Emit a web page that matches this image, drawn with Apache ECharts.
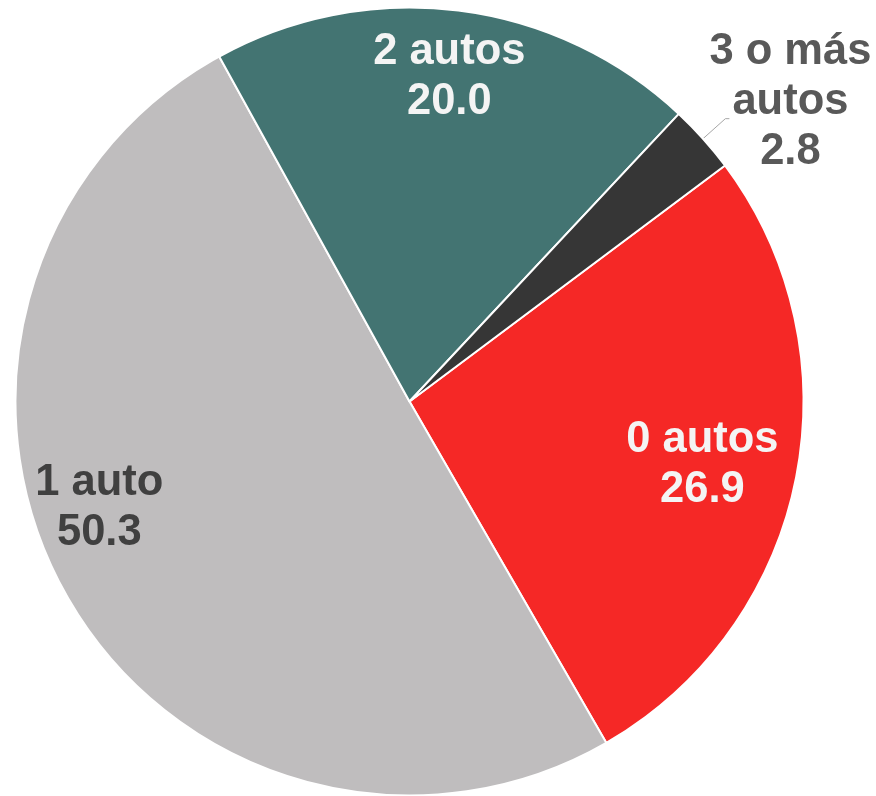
<!DOCTYPE html>
<html>
<head>
<meta charset="utf-8">
<script src="https://cdn.jsdelivr.net/npm/echarts@6/dist/echarts.min.js"></script>
<style>
  html, body { margin: 0; padding: 0; background: #ffffff; }
  #chart { width: 876px; height: 796px; }
</style>
</head>
<body>
<div id="chart"></div>
<script>
// Data
const categories = ['0 autos', '1 auto', '2 autos', '3 o más\nautos'];
const values = [26.9, 50.3, 20.0, 2.8];

// Styles
const sliceColors = ['#F52826', '#BFBDBE', '#437472', '#363636'];
const labelTokens = ['w', 'd1', 'w', 'd2'];
const labelOffsets = [[97, 23], [-136, 8], [15, -126], null];

const FONT = "'Liberation Sans', Arial, sans-serif";
function tok(color) {
  return { color: color, fontSize: 43.5, fontWeight: 'bold', fontFamily: FONT, lineHeight: 50, align: 'center' };
}

const chart = echarts.init(document.getElementById('chart'), null, { renderer: 'canvas' });

const data = categories.map(function (name, i) {
  const item = { name: name, value: values[i], itemStyle: { color: sliceColors[i] } };
  if (i === 3) {
    item.label = { position: 'outside', distanceToLabelLine: -20, padding: [0, 0, 33, 0] };
    item.labelLine = { show: true, length: 30, length2: 4, lineStyle: { color: '#A6A6A6', width: 1 } };
  }
  return item;
});

chart.setOption({
  animation: false,
  backgroundColor: '#ffffff',
  series: [{
    type: 'pie',
    center: [409.5, 401.5],
    radius: 394,
    startAngle: 36.8,
    clockwise: true,
    avoidLabelOverlap: false,
    itemStyle: { borderColor: '#ffffff', borderWidth: 2 },
    label: {
      show: true,
      position: 'inside',
      formatter: function (p) {
        const t = labelTokens[p.dataIndex];
        const lines = (p.name + '\n' + p.value.toFixed(1)).split('\n');
        return lines.map(function (l) { return '{' + t + '|' + l + '}'; }).join('\n');
      },
      rich: {
        w: tok('#F4F4F4'),
        d1: tok('#404040'),
        d2: tok('#595959')
      }
    },
    labelLine: { show: false },
    emphasis: { disabled: true },
    labelLayout: function (params) {
      const off = labelOffsets[params.dataIndex];
      if (!off) return {};
      return { dx: off[0], dy: off[1] };
    },
    data: data
  }]
});
</script>
</body>
</html>
